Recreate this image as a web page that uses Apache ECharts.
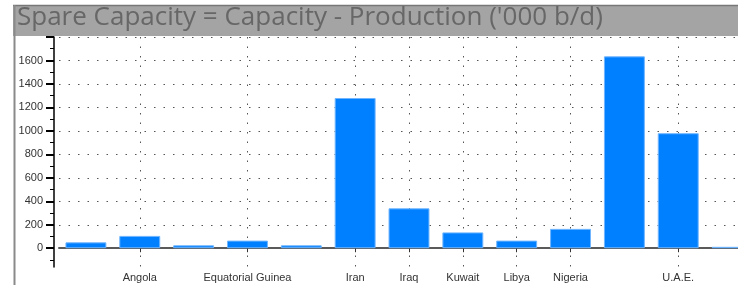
<!DOCTYPE html>
<html><head><meta charset="utf-8">
<script src="https://cdn.jsdelivr.net/npm/echarts@6/dist/echarts.min.js"></script>
<style>html,body{margin:0;padding:0;background:#fff}#c{width:738px;height:285px}</style>
</head><body><div id="c"></div>
<script>
const titleText = "Spare Capacity = Capacity - Production ('000 b/d)";
const countries = ['Algeria','Angola','Congo','Equatorial Guinea','Gabon','Iran','Iraq','Kuwait','Libya','Nigeria','Saudi Arabia','U.A.E.','Venezuela'];
const shownLabels = ['Angola','Equatorial Guinea','Iran','Iraq','Kuwait','Libya','Nigeria','U.A.E.'];
const spareCapacity = [50, 105, 25, 65, 25, 1280, 340, 135, 65, 165, 1635, 980, 12];
const yMajorTicks = [0, 200, 400, 600, 800, 1000, 1200, 1400, 1600, 1800];
const yLabelTicks = [0, 200, 400, 600, 800, 1000, 1200, 1400, 1600];
const yMinorTicks = [-100, 100, 300, 500, 700, 900, 1100, 1300, 1500, 1700];

const showIdx = (i) => shownLabels.indexOf(countries[i]) >= 0;
const dotted = { color: '#555', width: 1, type: [1.5, 8] };

const chart = echarts.init(document.getElementById('c'), null, { renderer: 'canvas' });
chart.setOption({
  animation: false,
  title: {
    text: titleText, left: 15, top: 3, padding: [2, 2, 2, 2],
    textStyle: { fontFamily: 'Open Sans', fontSize: 26, fontWeight: 'normal', color: '#676767' }
  },
  graphic: [
    { type: 'rect', z: -10, shape: { x: 13, y: 5, width: 740, height: 31 }, style: { fill: '#a4a4a4' } },
    { type: 'line', z: -9, shape: { x1: 13, y1: 5.5, x2: 738, y2: 5.5 }, style: { stroke: '#777', lineWidth: 1.5 } },
    { type: 'line', z: -9, shape: { x1: 14.5, y1: 5, x2: 14.5, y2: 285 }, style: { stroke: '#8a8a8a', lineWidth: 2 } }
  ],
  grid: { left: 59, width: 700, top: 37, bottom: 18, containLabel: false, outerBoundsMode: 'none' },
  xAxis: {
    type: 'category', data: countries, boundaryGap: true,
    axisLine: { show: true, lineStyle: { color: '#5a5a5a', width: 2 } },
    axisTick: { show: true, interval: (i) => showIdx(i), alignWithLabel: true, length: 4, lineStyle: { color: '#333' } },
    axisLabel: { interval: (i) => showIdx(i), margin: 5, fontFamily: 'Liberation Sans', fontSize: 11, color: '#333' },
    splitLine: { show: true, interval: (i) => showIdx(i), alignWithLabel: true, lineStyle: dotted }
  },
  yAxis: [
    {
      type: 'value', min: -160, max: 1800, offset: 5, position: 'left',
      axisLine: { show: true, onZero: false, lineStyle: { color: '#000', width: 1.5 } },
      axisTick: { show: true, customValues: yMajorTicks, length: 8, lineStyle: { color: '#000', width: 2 } },
      axisLabel: { customValues: yLabelTicks, margin: 11, fontFamily: 'Liberation Sans', fontSize: 11, color: '#333', formatter: (v) => String(v) },
      splitLine: { show: true, lineStyle: dotted }
    },
    {
      type: 'value', min: -160, max: 1800, offset: 5, position: 'left',
      axisLine: { show: false },
      axisTick: { show: true, customValues: yMinorTicks, length: 4, lineStyle: { color: '#000', width: 1 } },
      axisLabel: { show: false, customValues: yMinorTicks },
      splitLine: { show: false }
    }
  ],
  series: [{
    type: 'bar', data: spareCapacity, barWidth: '76%', yAxisIndex: 0,
    itemStyle: { color: '#0080ff', borderColor: '#6fb5ff', borderWidth: 1 }
  }]
});
</script></body></html>
